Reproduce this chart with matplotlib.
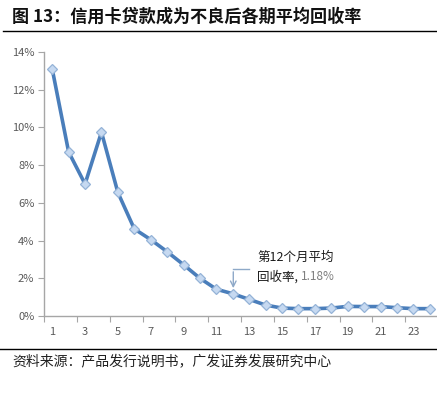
import matplotlib
matplotlib.use("Agg")
import matplotlib.pyplot as plt
from matplotlib.ticker import FuncFormatter

plt.rcParams['font.family'] = ['Noto Sans CJK SC', 'DejaVu Sans']

months = list(range(1, 25))
recovery = [13.1, 8.7, 7.0, 9.75, 6.55, 4.62, 4.05, 3.41, 2.72, 2.0, 1.42, 1.18,
            0.88, 0.58, 0.42, 0.39, 0.39, 0.42, 0.51, 0.5, 0.5, 0.44, 0.39, 0.39]
yticks = [0, 2, 4, 6, 8, 10, 12, 14]
xtick_labels = [1, 3, 5, 7, 9, 11, 13, 15, 17, 19, 21, 23]
title = "图 13：信用卡贷款成为不良后各期平均回收率"
source = "资料来源：产品发行说明书，广发证券发展研究中心"

W, H = 437, 397
fig = plt.figure(figsize=(W / 100, H / 100), dpi=100)
ax = fig.add_axes([44 / W, 1 - 316 / H, 394 / W, (316 - 52) / H])

line_c = '#4A7EBB'
ax.plot(months, recovery, color=line_c, lw=2.6, marker='D', ms=5.5,
        markerfacecolor='#C6D9F1', markeredgecolor='#95B3D7', markeredgewidth=0.9,
        zorder=3)

ax.set_xlim(0.5, 24.5)
ax.set_ylim(0, 14)
ax.set_yticks(yticks)
ax.yaxis.set_major_formatter(FuncFormatter(lambda v, p: f"{int(v)}%"))
ax.set_xticks(xtick_labels)
ax.set_xticklabels([str(v) for v in xtick_labels])
ax.tick_params(axis='x', which='major', length=0, pad=8, labelsize=8, labelcolor='#595959')
ax.set_xticks([0.5 + 2 * k for k in range(13)], minor=True)
ax.tick_params(axis='x', which='minor', length=4, color='#A6A6A6', width=0.8)
ax.tick_params(axis='y', length=4, color='#A6A6A6', width=0.8, labelsize=8,
               labelcolor='#595959', pad=3)
for s in ['top', 'right']:
    ax.spines[s].set_visible(False)
for s in ['left', 'bottom']:
    ax.spines[s].set_color('#A6A6A6')
    ax.spines[s].set_linewidth(1.0)

# callout
cc = '#8EA9C8'
ax.plot([13.0, 12.03], [2.49, 2.49], color=cc, lw=1.0, zorder=4)
ax.annotate('', xy=(12.03, 1.33), xytext=(12.03, 2.49),
            arrowprops=dict(arrowstyle='->', color=cc, lw=1.0), zorder=4)
ax.text(13.5, 3.13, "第12个月平均", fontsize=9, color='#1a1a1a', va='center', ha='left')
t = ax.text(13.5, 2.07, "回收率, ", fontsize=9, color='#1a1a1a', va='center', ha='left')
ax.annotate("1.18%", xy=(1, 0.5), xycoords=t, fontsize=8.5, color='#7f7f7f',
            va='center', ha='left')

fig.text(12 / W, 1 - 17 / H, title, fontsize=12.3, fontweight='bold', va='center', ha='left',
         color='#111111')
fig.add_artist(plt.Line2D([3 / W, 1], [1 - 31 / H, 1 - 31 / H], color='black', lw=1.0))
fig.add_artist(plt.Line2D([0, 1], [1 - 349 / H, 1 - 349 / H], color='black', lw=1.0))
fig.text(12 / W, 1 - 361 / H, source, fontsize=10, va='center', ha='left', color='#222222')

fig.savefig('out.png', dpi=100)
